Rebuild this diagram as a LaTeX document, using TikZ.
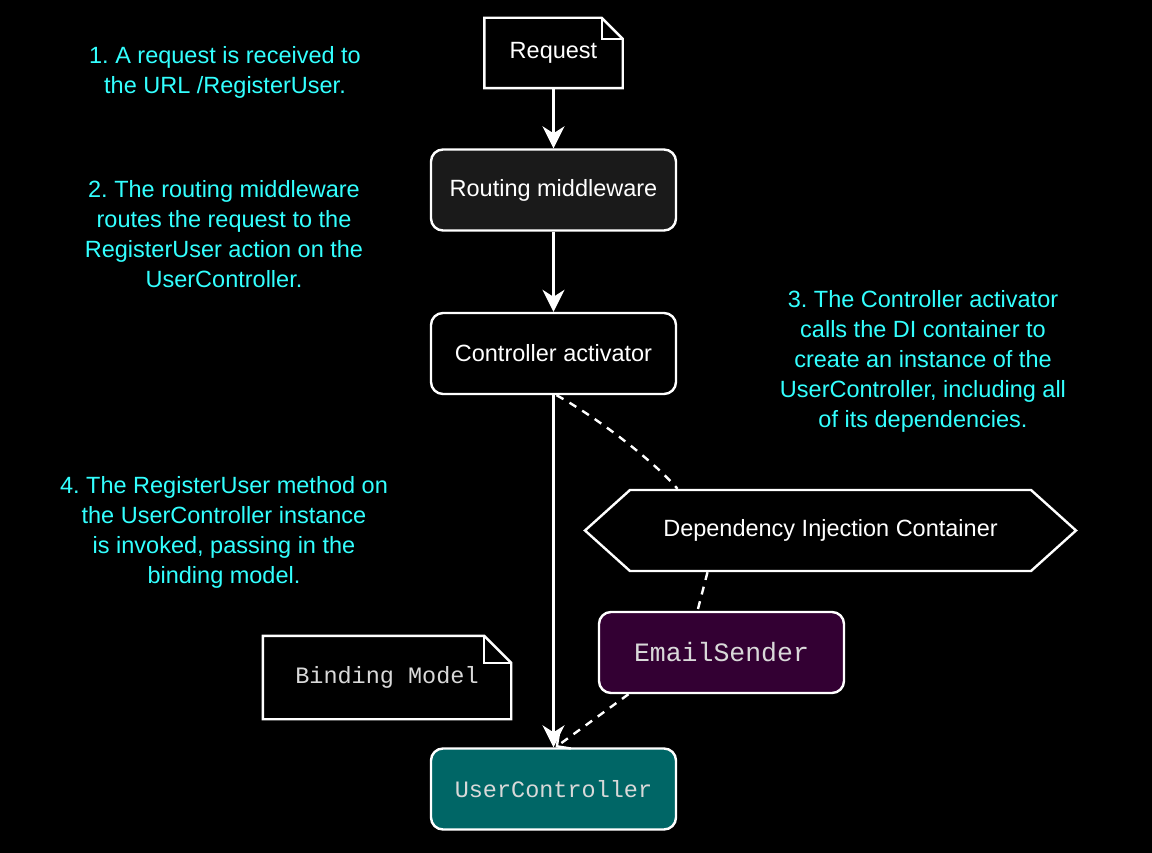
\documentclass[tikz,border=0pt]{standalone}
\usepackage{fontspec}
\setmainfont{Liberation Sans}
\setmonofont{Liberation Mono}
\usetikzlibrary{arrows.meta,shapes.symbols,calc}
\frenchspacing

\definecolor{notecyan}{RGB}{51,255,255}
\definecolor{routefill}{RGB}{26,26,26}
\definecolor{senderfill}{RGB}{51,0,51}
\definecolor{ctrlfill}{RGB}{0,102,102}

% outline of a note with a folded corner, drawn round a node
\newcommand{\foldbox}[2]{%
  \draw[white] (#1.north west) -- ($(#1.north east)+(-#2,0)$)
    -- ($(#1.north east)+(0,#2)$) -- (#1.south east) -- (#1.south west) -- cycle;
  \draw[white] ($(#1.north east)+(-#2,0)$) -- ($(#1.north east)+(-#2,#2)$)
    -- ($(#1.north east)+(0,#2)$);}

\begin{document}
\begin{tikzpicture}[x=1pt,y=-1pt,line width=2.4pt,
    every node/.style={font=\fontsize{23.5}{30}\selectfont,text=white},
    stage/.style={draw=white,rounded corners=12pt,minimum width=245pt,
      minimum height=81pt,inner sep=0pt},
    codebox/.style={stage,font=\fontsize{23.5}{30}\selectfont\ttfamily,text=black!15},
    note/.style={text=notecyan,align=center,inner sep=0pt},
    flow/.style={draw=white,-{Stealth[length=22pt,width=22pt,inset=7pt]}},
    depends/.style={draw=white,dash pattern=on 8pt off 7pt}]

    \fill[black] (0,0) rectangle (1152,853);
    \useasboundingbox (0,0) rectangle (1152,853);

    % Request pipeline
    \node[minimum width=136pt,minimum height=68pt,inner sep=0pt] (req) at (553.5,53) {Request};
    \foldbox{req}{21}
    \node[stage,fill=routefill] (route) at (553.5,190) {Routing middleware};
    \node[stage,fill=black] (act) at (553.5,353.5) {Controller activator};
    \node[codebox,fill=ctrlfill] (uc) at (553.5,789) {UserController};

    % DI container and its services
    \node[draw=white,shape=signal,signal to=west and east,signal pointer angle=84,
      minimum width=491pt,minimum height=81pt,inner sep=0pt] (dic) at (830.5,530.5)
      {Dependency Injection Container};
    \node[codebox,fill=senderfill,font=\fontsize{26.5}{30}\selectfont\ttfamily] (es)
      at (721.5,652.5) {EmailSender};

    % Binding model
    \node[minimum width=246pt,minimum height=81pt,inner sep=0pt,
      font=\fontsize{23.5}{30}\selectfont\ttfamily,text=black!15] (bm) at (387,677.5) {Binding Model};
    \foldbox{bm}{27}

    % Main flow
    \draw[flow] (req) -- (route);
    \draw[flow] (route) -- (act);
    \draw[flow] (act) -- (uc);

    % Dependencies
    \draw[depends] ([xshift=3pt]act.south) .. controls +(40,22) and +(-25,-29)
      .. ([xshift=-153pt]dic.north);
    \draw[depends] ([xshift=-123pt]dic.south) -- ([xshift=-24pt]es.north);
    \draw[depends,-{Straight Barb[length=10pt,width=20pt]}]
      ([xshift=-93pt]es.south) -- ([xshift=2pt]uc.north);

    % Steps
    \node[note] (step1) at (225,72) {1. A request is received to\\the URL /RegisterUser.};
    \node[note] (step2) at (224,234) {2. The routing middleware\\routes the request to the\\
      RegisterUser action on the\\UserController.};
    \node[note] (step3) at (923,361) {3. The Controller activator\\calls the DI container to\\
      create an instance of the\\UserController, including all\\of its dependencies.};
    \node[note] (step4) at (224,532) {4. The RegisterUser method on\\the UserController instance\\
      is invoked, passing in the\\binding model.};

  \end{tikzpicture}
\end{document}
